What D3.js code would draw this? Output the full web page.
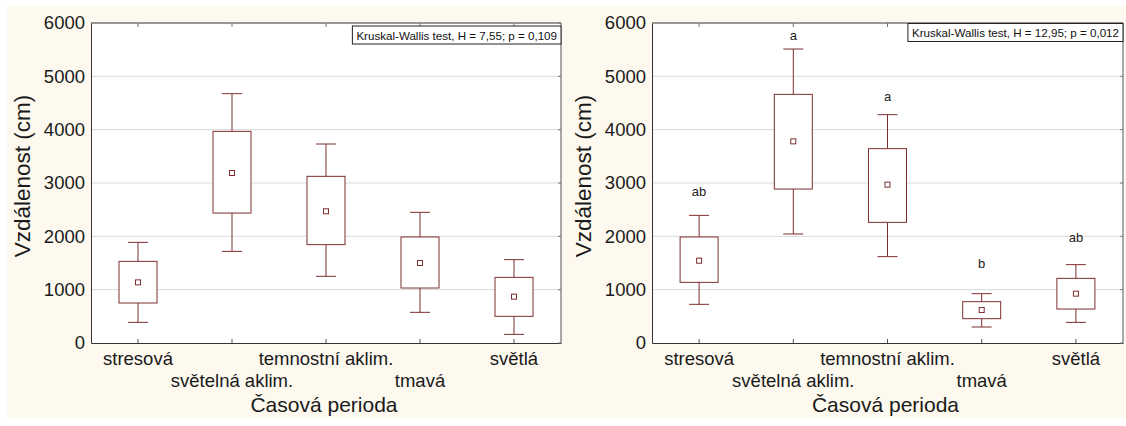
<!DOCTYPE html>
<html><head><meta charset="utf-8">
<script src="https://cdn.jsdelivr.net/npm/d3@7"></script>
<style>
html,body{margin:0;padding:0;background:#fff;}
svg{display:block;font-family:"Liberation Sans",Arial,sans-serif;}
</style></head>
<body>
<svg id="chart" width="1126" height="426"></svg>
<script>
// ---- data ----
const categories = ["stresová","světelná aklim.","temnostní aklim.","tmavá","světlá"];
const yTicks = [0,1000,2000,3000,4000,5000,6000];
// left panel (min whisker, box low, mean, box high, max whisker)
const leftWhiskerLow  = [387, 1718, 1250, 575, 162];
const leftBoxLow      = [750, 2437, 1844, 1031, 500];
const leftMean        = [1137, 3188, 2469, 1500, 869];
const leftBoxHigh     = [1531, 3968, 3125, 1988, 1231];
const leftWhiskerHigh = [1887, 4675, 3731, 2450, 1563];
const leftTest = "Kruskal-Wallis test, H = 7,55; p = 0,109";
// right panel
const rightWhiskerLow  = [725, 2044, 1619, 300, 387];
const rightBoxLow      = [1137, 2887, 2262, 456, 637];
const rightMean        = [1543, 3781, 2969, 619, 925];
const rightBoxHigh     = [1988, 4662, 3644, 775, 1212];
const rightWhiskerHigh = [2393, 5512, 4281, 925, 1469];
const rightGroups      = ["ab","a","a","b","ab"];
const rightGroupLevel  = [2840, 5762, 4625, 1487, 1981];
const rightTest = "Kruskal-Wallis test, H = 12,95; p = 0,012";
const yLabel = "Vzdálenost (cm)";
const xLabel = "Časová perioda";

// ---- drawing ----
const svg = d3.select("#chart");
svg.append("rect").attr("x",7).attr("y",6).attr("width",1119).attr("height",412).attr("fill","#fdf9ef");

const BOX = "#7d2e2e";
const plotTop = 23, plotBottom = 343;

function panel(x0, x1, lo, blo, mean, bhi, hi, testText, groups, groupLevel, kwY){
  const g = svg.append("g");
  const y = d3.scaleLinear().domain([0,6000]).range([plotBottom, plotTop]);
  const x = d3.scaleBand().domain(categories).range([x0, x1]).padding(0);
  const cx = c => x(c) + x.bandwidth()/2;

  g.append("rect").attr("x",x0).attr("y",plotTop).attr("width",x1-x0).attr("height",plotBottom-plotTop).attr("fill","#fff");
  // gridlines
  g.selectAll(".grid").data(yTicks.filter(t=>t>0 && t<6000)).join("line")
    .attr("x1",x0).attr("x2",x1).attr("y1",d=>y(d)).attr("y2",d=>y(d))
    .attr("stroke","#dadada").attr("stroke-width",1);

  // frame
  g.append("line").attr("x1",x0).attr("x2",x1).attr("y1",plotTop).attr("y2",plotTop).attr("stroke","#333");
  g.append("line").attr("x1",x1).attr("x2",x1).attr("y1",plotTop).attr("y2",plotBottom).attr("stroke","#555");
  // axes
  const ya = d3.axisLeft(y).tickValues(yTicks).tickFormat(d3.format("d")).tickSize(0).tickPadding(6);
  const yg = g.append("g").attr("transform",`translate(${x0},0)`).call(ya);
  yg.select(".domain").attr("stroke","#333");
  yg.selectAll("text").attr("font-size","18.5px").attr("fill","#1a1a1a").attr("font-family","Liberation Sans, Arial");
  const xa = d3.axisBottom(x).tickSize(0).tickFormat("");
  const xg = g.append("g").attr("transform",`translate(0,${plotBottom})`).call(xa);
  xg.select(".domain").attr("stroke","#333");
  // inward ticks
  g.selectAll(".tb").data(categories).join("line").attr("x1",cx).attr("x2",cx)
    .attr("y1",plotBottom).attr("y2",plotBottom-4).attr("stroke","#555");
  g.selectAll(".tt").data(categories).join("line").attr("x1",cx).attr("x2",cx)
    .attr("y1",plotTop).attr("y2",plotTop+4).attr("stroke","#777");
  g.selectAll(".tr").data(yTicks).join("line").attr("x1",x1).attr("x2",x1-3)
    .attr("y1",d=>y(d)).attr("y2",d=>y(d)).attr("stroke","#777");

  // x tick labels staggered
  g.selectAll(".xl").data(categories).join("text")
    .attr("x",cx).attr("y",(d,i)=> i%2===0 ? 365 : 387)
    .attr("text-anchor","middle").attr("font-size","18.5px").attr("fill","#1a1a1a").text(d=>d);
  // axis titles
  g.append("text").attr("x",(x0+x1)/2-2).attr("y",412).attr("text-anchor","middle")
    .attr("font-size","21px").attr("fill","#1a1a1a").text(xLabel);
  g.append("text").attr("transform",`translate(${x0-61},176) rotate(-90)`).attr("text-anchor","middle")
    .attr("font-size","22.5px").attr("fill","#1a1a1a").text(yLabel);

  // boxes
  const bw = 38, cw = 20, ms = 5;
  categories.forEach((c,i)=>{
    const xc = cx(c);
    g.append("line").attr("x1",xc).attr("x2",xc).attr("y1",y(hi[i])).attr("y2",y(bhi[i])).attr("stroke",BOX);
    g.append("line").attr("x1",xc).attr("x2",xc).attr("y1",y(blo[i])).attr("y2",y(lo[i])).attr("stroke",BOX);
    g.append("line").attr("x1",xc-cw/2).attr("x2",xc+cw/2).attr("y1",y(hi[i])).attr("y2",y(hi[i])).attr("stroke",BOX);
    g.append("line").attr("x1",xc-cw/2).attr("x2",xc+cw/2).attr("y1",y(lo[i])).attr("y2",y(lo[i])).attr("stroke",BOX);
    g.append("rect").attr("x",xc-bw/2).attr("y",y(bhi[i])).attr("width",bw).attr("height",y(blo[i])-y(bhi[i]))
      .attr("fill","#fff").attr("stroke",BOX);
    g.append("rect").attr("x",xc-ms/2).attr("y",y(mean[i])-ms/2).attr("width",ms).attr("height",ms)
      .attr("fill","#fff").attr("stroke",BOX);
    if(groups){
      g.append("text").attr("x",xc).attr("y",y(groupLevel[i])).attr("dy","0.35em").attr("text-anchor","middle")
        .attr("font-size","13px").attr("fill","#222").text(groups[i]);
    }
  });

  // test legend
  const lg = g.append("g");
  const t = lg.append("text").attr("font-size","11.6px").attr("fill","#111").text(testText);
  const tw = t.node().getComputedTextLength();
  const bwid = tw + 8, bh = 18;
  lg.insert("rect","text").attr("x",x1-bwid).attr("y",kwY).attr("width",bwid).attr("height",bh)
    .attr("fill","#fff").attr("stroke","#222");
  t.attr("x",x1-bwid+4).attr("y",kwY+13.5);
}

panel(91, 561, leftWhiskerLow, leftBoxLow, leftMean, leftBoxHigh, leftWhiskerHigh, leftTest, null, null, 26);
panel(652, 1123, rightWhiskerLow, rightBoxLow, rightMean, rightBoxHigh, rightWhiskerHigh, rightTest, rightGroups, rightGroupLevel, 23.5);
</script>
</body></html>
